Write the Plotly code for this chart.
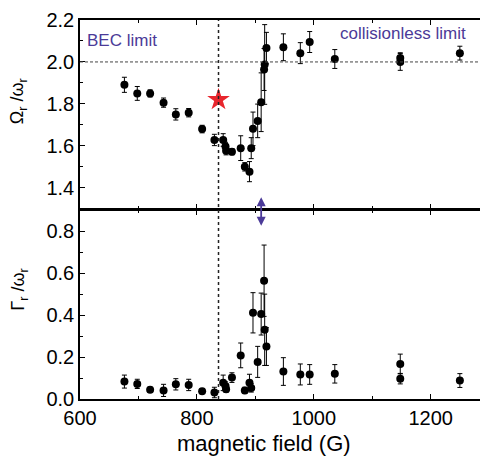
import plotly.graph_objects as go

field = [676, 698, 720, 743, 764, 786, 809, 830, 845, 849, 850, 860, 875, 882, 890, 893,
         896, 904, 910, 915, 916, 919, 948, 977, 993, 1036, 1148, 1148, 1250]
omega = [1.891, 1.850, 1.850, 1.806, 1.750, 1.758, 1.680, 1.628, 1.628, 1.597, 1.577, 1.572,
         1.589, 1.500, 1.477, 1.589, 1.681, 1.719, 1.808, 1.964, 1.988, 2.066, 2.070, 2.042,
         2.095, 2.014, 2.019, 2.000, 2.042]
omega_err = [0.036, 0.033, 0.017, 0.022, 0.027, 0.020, 0.018, 0.027, 0.030, 0.020, 0.020, 0.015,
             0.059, 0.020, 0.048, 0.050, 0.080, 0.080, 0.140, 0.100, 0.190, 0.075, 0.064, 0.050,
             0.050, 0.045, 0.025, 0.040, 0.033]
gamma = [0.083, 0.072, 0.044, 0.041, 0.070, 0.067, 0.037, 0.031, 0.077, 0.062, 0.047, 0.102,
         0.208, 0.041, 0.078, 0.053, 0.411, 0.177, 0.405, 0.564, 0.330, 0.250, 0.131, 0.117,
         0.117, 0.120, 0.167, 0.097, 0.088]
gamma_err = [0.031, 0.022, 0.012, 0.029, 0.027, 0.027, 0.010, 0.025, 0.037, 0.020, 0.015, 0.023,
             0.059, 0.015, 0.040, 0.020, 0.096, 0.074, 0.100, 0.170, 0.170, 0.090, 0.066, 0.050,
             0.047, 0.044, 0.047, 0.025, 0.033]

star_field = [837]
star_omega = [1.82]
unitarity_field = 837
arrow_field = 910
collisionless_value = 2.0

x_ticks = [600, 800, 1000, 1200]
x_minor = [700, 900, 1100]
top_ticks = [1.4, 1.6, 1.8, 2.0, 2.2]
top_minor = [1.3, 1.5, 1.7, 1.9, 2.1]
bot_ticks = [0.0, 0.2, 0.4, 0.6, 0.8]
bot_minor = [0.1, 0.3, 0.5, 0.7]

FONT = "Liberation Sans, Arial, sans-serif"
PURPLE = "#4b3a98"

# page has an 8px body margin: plot area should land at page x 80..487, y 15..399
PLOT_H = 384.0
gap = 0.75 / PLOT_H

fig = go.Figure()
err_style = dict(type="data", symmetric=True, thickness=1, width=2.5, color="black")
fig.add_trace(go.Scatter(x=field, y=omega, mode="markers", xaxis="x2", yaxis="y",
                         marker=dict(color="black", size=8),
                         error_y=dict(array=omega_err, **err_style), showlegend=False))
fig.add_trace(go.Scatter(x=field, y=gamma, mode="markers", xaxis="x", yaxis="y2",
                         marker=dict(color="black", size=8),
                         error_y=dict(array=gamma_err, **err_style), showlegend=False))
fig.add_trace(go.Scatter(x=star_field, y=star_omega, mode="markers", xaxis="x2", yaxis="y",
                         marker=dict(symbol="star", color="#e8262d", size=17, line=dict(width=0)),
                         showlegend=False))

axis_common = dict(showline=True, linecolor="black", linewidth=1.5, mirror="allticks",
                   ticks="inside", ticklen=5, tickwidth=1, tickcolor="black",
                   showgrid=False, zeroline=False, ticklabeloverflow="allow",
                   tickfont=dict(family=FONT, size=20, color="black"))

fig.update_layout(
    width=480, height=448,
    margin=dict(l=72, r=1, t=7, b=57),
    paper_bgcolor="white", plot_bgcolor="white",
    font=dict(family=FONT, color="black"),
    xaxis=dict(anchor="y2", range=[600, 1293], tickvals=x_ticks,
               ticktext=[str(v) for v in x_ticks],
               minor=dict(tickvals=x_minor, ticks="inside", ticklen=3, tickcolor="black"),
               **axis_common),
    xaxis2=dict(anchor="y", matches="x", range=[600, 1293], tickvals=x_ticks,
                showticklabels=False,
                minor=dict(tickvals=x_minor, ticks="inside", ticklen=3, tickcolor="black"),
                **axis_common),
    yaxis=dict(anchor="x2", domain=[0.5 + gap, 1], range=[1.3, 2.2], tickvals=top_ticks,
               ticktext=[f"{v:.1f}" for v in top_ticks],
               minor=dict(tickvals=top_minor, ticks="inside", ticklen=3, tickcolor="black"),
               **axis_common),
    yaxis2=dict(anchor="x", domain=[0, 0.5 - gap], range=[0, 0.9], tickvals=bot_ticks,
                ticktext=[f"{v:.1f}" for v in bot_ticks],
                minor=dict(tickvals=bot_minor, ticks="inside", ticklen=3, tickcolor="black"),
                **axis_common),
)

# reference lines
fig.add_shape(type="line", xref="x", yref="paper", x0=unitarity_field, x1=unitarity_field,
              y0=0, y1=1, line=dict(color="#222", width=1.5, dash="dot"))
fig.add_shape(type="line", xref="paper", yref="y", x0=0, x1=1,
              y0=collisionless_value, y1=collisionless_value,
              line=dict(color="#444", width=1, dash="3px,2px"))

# double arrow across the panel boundary
fig.add_annotation(x=arrow_field, y=0.8265, xref="x", yref="y2",
                   ax=0, ay=-30, axref="pixel", ayref="pixel",
                   showarrow=True, arrowside="end+start", arrowhead=2, arrowsize=1,
                   arrowwidth=1.8, arrowcolor=PURPLE, text="", standoff=0, startstandoff=0)

# labels
fig.add_annotation(text="BEC limit", xref="paper", yref="paper",
                   x=(122 - 80) / 407, y=(399 - 36) / PLOT_H, showarrow=False,
                   xanchor="center", yanchor="middle",
                   font=dict(family=FONT, size=17, color=PURPLE))
fig.add_annotation(text="collisionless limit", xref="paper", yref="paper",
                   x=(405 - 80) / 407, y=(399 - 29) / PLOT_H, showarrow=False,
                   xanchor="center", yanchor="middle",
                   font=dict(family=FONT, size=17, color=PURPLE))

fig.add_annotation(text="magnetic field (G)", xref="paper", yref="paper",
                   x=(265 - 80) / 407, y=(399 - 444) / PLOT_H, showarrow=False,
                   xanchor="center", yanchor="middle",
                   font=dict(family=FONT, size=22, color="black"))
fig.add_annotation(text="Ω<sub>r</sub> /ω<sub>r</sub>", xref="paper", yref="paper",
                   x=(19 - 80) / 407, y=(399 - 97) / PLOT_H, showarrow=False, textangle=-90,
                   xanchor="center", yanchor="middle",
                   font=dict(family=FONT, size=18, color="black"))
fig.add_annotation(text="Γ<sub>r</sub> /ω<sub>r</sub>", xref="paper", yref="paper",
                   x=(19 - 80) / 407, y=(399 - 288) / PLOT_H, showarrow=False, textangle=-90,
                   xanchor="center", yanchor="middle",
                   font=dict(family=FONT, size=18, color="black"))

fig.write_html("out.html")
